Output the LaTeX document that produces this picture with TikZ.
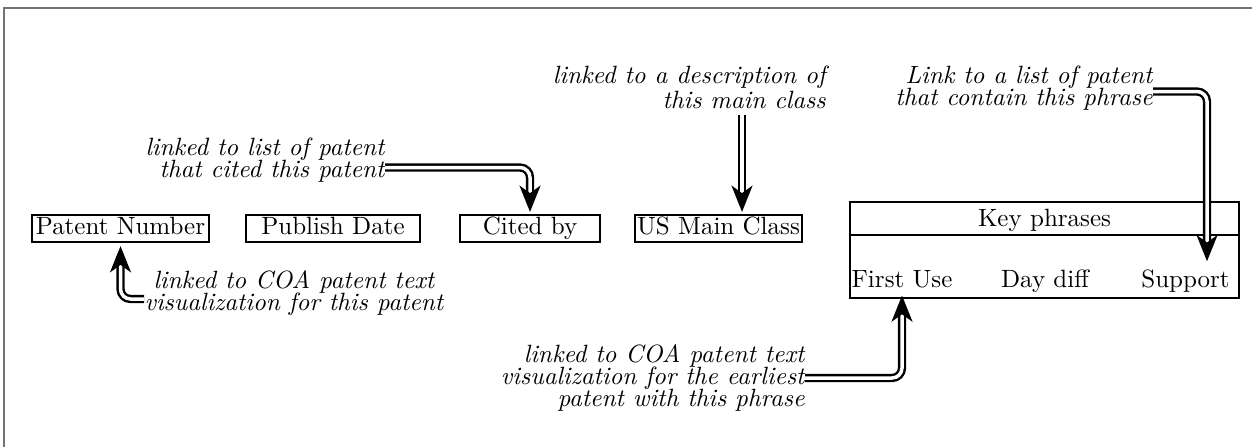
\documentclass[tikz,border=0pt]{standalone}
\usetikzlibrary{arrows.meta}
% italic note text with tight, fixed line spacing
\newcommand\noteshape{\itshape\fontsize{10}{8.8}\selectfont\setlength{\lineskiplimit}{-20pt}}
\newcommand\noteshapewide{\itshape\fontsize{10}{10}\selectfont}
\begin{document}
\begin{tikzpicture}[x=0.4pt,y=-0.4pt]
\tikzset{
  fieldbox/.style={draw, line width=0.9pt, inner sep=0pt, minimum height=10.8pt,
    text height=7pt, text depth=2pt},
  cellt/.style={inner sep=0pt, text height=7pt, text depth=2pt},
  notetext/.style={inner sep=0pt, font=\noteshape},
  linkarrow/.style={double, double distance=1.4pt, line width=0.95pt, rounded corners=4pt,
    -{Stealth[length=10.5pt,width=8.4pt,inset=3pt]}},
}
\useasboundingbox (0,0) rectangle (1252,447);
% frame edges
\draw[black!55, line width=0.8pt] (3.5,447) -- (3.5,7.5) -- (1252,7.5);

% record fields
\node[fieldbox, minimum width=70.8pt] (pn) at (120.5,228.5) {Patent Number};
\node[fieldbox, minimum width=69.6pt] (pd) at (333,228.5) {Publish Date};
\node[fieldbox, minimum width=56pt] (cb) at (530,228.5) {Cited by};
\node[fieldbox, minimum width=66.8pt] (mc) at (718.5,228.5) {US Main Class};

% key phrase table
\node[draw, line width=0.9pt, minimum width=155.6pt, minimum height=38.4pt, inner sep=0pt] (kp) at (1044.5,250) {};
\draw[line width=0.9pt] ([yshift=-13.6pt]kp.north west) -- ([yshift=-13.6pt]kp.north east);
\node[cellt] (kh) at (1044.5,220) {Key phrases};
\node[cellt] (fu) at (902,281) {First Use};
\node[cellt] (dd) at (1045,281) {Day diff};
\node[cellt] (sp) at (1185.5,281) {Support};

% annotations
\node[notetext, align=right, anchor=east] (t1) at (385,160) {linked to list of patent\\that cited this patent};
\node[notetext, align=right, anchor=east, font=\noteshapewide] (t2) at (826,87) {linked to a description of\\this main class};
\node[notetext, align=right, anchor=east] (t3) at (1153,88) {Link to a list of patent\\that contain this phrase};
\node[notetext, align=right, anchor=east] (t4) at (805,378) {linked to COA patent text\\visualization for the earliest\\patent with this phrase};
\node[notetext, align=center, anchor=west] (t5) at (144,293) {linked to COA patent text\\visualization for this patent};

% links
\draw[linkarrow] ([yshift=-3pt]t1.east) -| ([yshift=0.8pt]cb.north);
\coordinate (a2) at ([xshift=9.4pt,yshift=0.8pt]mc.north);
\coordinate (s2) at ([yshift=-2.6pt]t2.south);
\draw[linkarrow] (s2 -| a2) -- (a2);
\draw[linkarrow] ([yshift=-1.4pt]t3.east) -| ([xshift=8.6pt,yshift=3.2pt]sp.north);
\draw[linkarrow] (t4.east) -| ([yshift=-1.1pt]fu.south);
\draw[linkarrow] ([yshift=-2.4pt]t5.west) -| ([yshift=-1.2pt]pn.south);
\end{tikzpicture}
\end{document}
